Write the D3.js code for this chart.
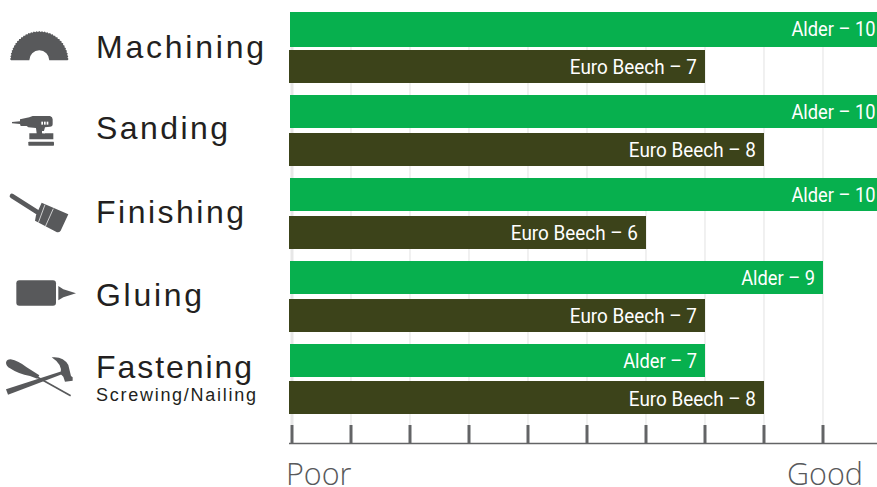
<!doctype html>
<html>
<head>
  <meta charset="utf-8">
  <script src="https://cdnjs.cloudflare.com/ajax/libs/d3/7.8.5/d3.min.js"></script>
  <style>
    html, body { margin: 0; padding: 0; background: #fff; }
    svg { display: block; }
  </style>
</head>
<body>
<svg id="chart" width="877" height="487"></svg>
<script>
const categories = ["Machining", "Sanding", "Finishing", "Gluing", "Fastening"];
const alderValues = [10, 10, 10, 9, 7];
const beechValues = [7, 8, 6, 7, 8];
const tickValues = [0, 1, 2, 3, 4, 5, 6, 7, 8, 9];

const svg = d3.select("#chart");
const xScale = d3.scaleLinear().domain([0, 10]).range([292, 882]);
const yScale = d3.scaleBand().domain(categories).range([12, 427]);
const barH = 33;
const iconColor = "#58595b";

// gridlines
svg.append("g").selectAll("line").data(tickValues).enter().append("line")
  .attr("x1", d => xScale(d)).attr("x2", d => xScale(d))
  .attr("y1", 12).attr("y2", 425)
  .attr("stroke", "#e7e7e7").attr("stroke-width", d => d == 0 ? 3 : 1.2);

// bars
const rows = svg.append("g").selectAll("g").data(categories).enter().append("g");
rows.append("rect")
  .attr("x", 290)
  .attr("y", d => yScale(d))
  .attr("width", (d, i) => xScale(alderValues[i]) - 290)
  .attr("height", (d, i) => i == 0 ? 35 : barH)
  .attr("fill", "#07b04e");
rows.append("rect")
  .attr("x", 289)
  .attr("y", (d, i) => yScale(d) + (i == 4 ? 37 : 38))
  .attr("width", (d, i) => xScale(beechValues[i]) - 289)
  .attr("height", barH)
  .attr("fill", "#3c431a");

// no condensed face installed, so squeeze Roboto sideways
const barFont = "Roboto, sans-serif";
rows.append("text")
  .attr("transform", (d, i) => {
    const right = alderValues[i] < 10 ? xScale(alderValues[i]) - 8 : 875.5;
    return `translate(${right},${yScale(d) + 24}) scale(0.87,1)`;
  })
  .attr("text-anchor", "end")
  .attr("fill", "#fff").attr("font-family", barFont).attr("font-size", 21)
  .text((d, i) => "Alder – " + alderValues[i]);
rows.append("text")
  .attr("transform", (d, i) => `translate(${xScale(beechValues[i]) - 8},${yScale(d) + 62}) scale(0.9,1)`)
  .attr("text-anchor", "end")
  .attr("fill", "#fff").attr("font-family", barFont).attr("font-size", 21)
  .text((d, i) => "Euro Beech – " + beechValues[i]);

// category labels
const labelFont = "'Liberation Sans', Arial, sans-serif";
const labelY = [58, 139, 223, 306, 378];
const labelW = [168, 132, 148, 106, 156];
svg.append("g").selectAll("text").data(categories).enter().append("text")
  .attr("x", 96)
  .attr("y", (d, i) => labelY[i])
  .attr("font-family", labelFont).attr("font-size", 32)
  .attr("textLength", (d, i) => labelW[i]).attr("lengthAdjust", "spacing")
  .attr("fill", "#231f20")
  .text(d => d);
svg.append("text").attr("x", 96).attr("y", 401)
  .attr("font-family", labelFont).attr("font-size", 18)
  .attr("textLength", 160).attr("lengthAdjust", "spacing").attr("fill", "#231f20")
  .text("Screwing/Nailing");

// axis
svg.append("g").selectAll("line").data(tickValues).enter().append("line")
  .attr("x1", d => xScale(d)).attr("x2", d => xScale(d))
  .attr("y1", 425).attr("y2", 443)
  .attr("stroke", "#636466").attr("stroke-width", 3);
svg.append("line").attr("x1", 289).attr("x2", 877).attr("y1", 443.5).attr("y2", 443.5)
  .attr("stroke", "#636466").attr("stroke-width", 1.5);

const endFont = "'Open Sans', sans-serif";
svg.append("text").attr("x", 286).attr("y", 485)
  .attr("font-family", endFont).attr("font-size", 30.5).attr("font-weight", 300).attr("fill", "#58595b")
  .text("Poor");
svg.append("text").attr("x", 863).attr("y", 485).attr("text-anchor", "end")
  .attr("font-family", endFont).attr("font-size", 30.5).attr("font-weight", 300).attr("fill", "#58595b")
  .text("Good");

// icons, traced at 3x so each group is scaled back down
const icons = svg.append("g").attr("fill", iconColor);

// saw blade
const teeth = 66;
const bladePts = d3.range(teeth + 1).map(i => {
  const a = Math.PI + Math.PI * i / teeth;
  const r = i % 2 ? 29.3 : 28.3;
  return [39.3 + r * Math.cos(a), 60.3 + r * Math.sin(a)];
});
icons.append("path")
  .attr("d", "M" + bladePts.join("L") + "L49.3,60.3A10,10 0 0 0 29.3,60.3Z");

// sander
const sander = icons.append("g").attr("transform", "scale(0.3333)");
sander.append("path").attr("d", "M36,366L60,364L60,358L88,352L98,348L150,348Q158,350 158,358L158,372Q158,380 150,380L135,382L130,400L160,400L160,418L88,418L88,400L110,400L108,384L85,382L80,378L62,378L60,372L36,370Z");
sander.append("rect").attr("x", 85).attr("y", 425).attr("width", 77).attr("height", 12).attr("rx", 2);
sander.selectAll("rect.dot").data([124, 132, 140]).enter().append("rect")
  .attr("class", "dot").attr("x", d => d).attr("y", 365).attr("width", 5).attr("height", 9).attr("fill", "#fff");
sander.append("rect").attr("x", 126).attr("y", 393).attr("width", 9).attr("height", 7).attr("fill", "#fff");

// brush
const brush = icons.append("g").attr("transform", "translate(0,170) scale(0.3333)");
brush.append("line").attr("x1", 36).attr("y1", 78).attr("x2", 115).attr("y2", 128)
  .attr("stroke", iconColor).attr("stroke-width", 14).attr("stroke-linecap", "round");
brush.append("path").attr("d", "M125,98L205,133L182,182Q176,190 168,185L105,152L108,136Z");
brush.append("path").attr("d", "M135,104L115,158M160,116L135,172")
  .attr("stroke", "#e8e8e8").attr("stroke-width", 2.5).attr("fill", "none");

// glue bottle
const glue = icons.append("g").attr("transform", "translate(0,170) scale(0.3333)");
glue.append("rect").attr("x", 49).attr("y", 331).attr("width", 119).attr("height", 76).attr("rx", 9);
glue.append("path").attr("d", "M175,348L190,358L228,370L190,382L175,391Z");

// screwdriver and hammer
const tools = icons.append("g").attr("transform", "translate(0,350) scale(0.3333)");
tools.append("path").attr("d", "M18,38Q20,28 32,28Q55,32 80,52L118,76L112,86L90,78Q55,72 30,55Q18,48 18,38Z");
tools.append("line").attr("x1", 110).attr("y1", 80).attr("x2", 212).attr("y2", 137)
  .attr("stroke", iconColor).attr("stroke-width", 5);
tools.append("path").attr("d", "M18,118L185,64L188,72L24,134Z");
tools.append("path").attr("d", "M155,22Q190,18 205,45L213,78L218,82L218,92L195,95L190,80L182,72Q190,45 155,22Z");
</script>
</body>
</html>
